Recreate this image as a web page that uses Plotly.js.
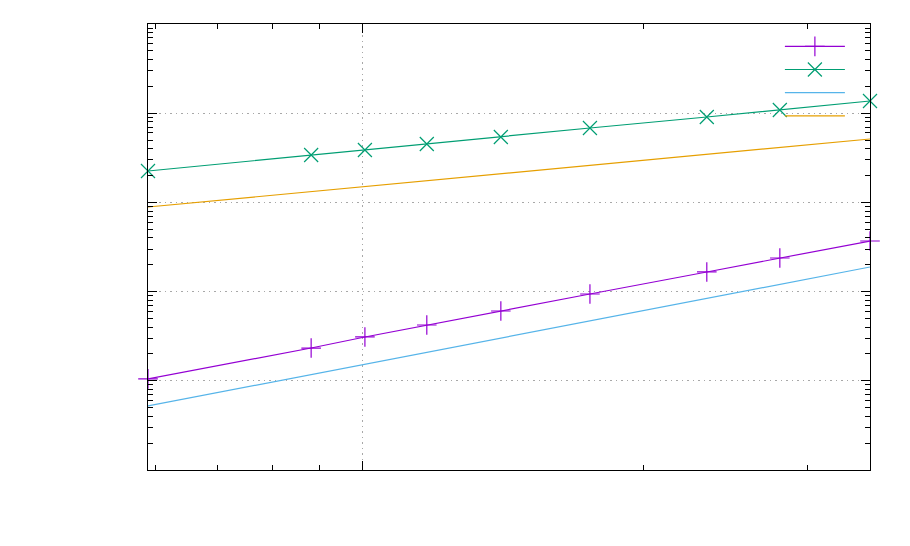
<!DOCTYPE html>
<html><head><meta charset="utf-8">
<script src="https://cdn.plot.ly/plotly-3.0.1.min.js"></script>
<style>html,body{margin:0;padding:0;background:#fff}#plot{width:910px;height:546px}</style>
</head><body><div id="plot"></div>
<script>
// data (arbitrary units, axes carry no labels)
const xPoints = [0.589, 0.881, 1.006, 1.172, 1.407, 1.753, 2.339, 2.801, 3.499];
const purpleY = [10.5, 23.3, 31.0, 42.2, 60.6, 94.0, 166, 238, 369];
const greenY = [2249, 3400, 3866, 4515, 5410, 6825, 9065, 10860, 13700];
const blueX = [0.589, 3.499];
const blueY = [5.22, 188.7];
const orangeX = [0.589, 3.499];
const orangeY = [888, 5140];

const traces = [
  {x: xPoints, y: purpleY, mode: 'lines+markers', name: ' ', cliponaxis: false,
   line: {color: '#9400d3', width: 1.2}, marker: {symbol: 'cross-thin-open', size: 14, line: {color: '#9400d3', width: 1.2}}},
  {x: xPoints, y: greenY, mode: 'lines+markers', name: ' ', cliponaxis: false,
   line: {color: '#009e73', width: 1.2}, marker: {symbol: 'x-thin-open', size: 14, line: {color: '#009e73', width: 1.2}}},
  {x: blueX, y: blueY, mode: 'lines', name: ' ', line: {color: '#56b4e9', width: 1.2}},
  {x: orangeX, y: orangeY, mode: 'lines', name: ' ', line: {color: '#e69f00', width: 1.2}}
];

const axisCommon = {
  type: 'log', showline: true, linecolor: '#000', linewidth: 1, mirror: 'allticks',
  ticks: 'inside', ticklen: 9, tickcolor: '#000', tickwidth: 1, showticklabels: false,
  dtick: 1, showgrid: true, gridcolor: '#a8a8a8', griddash: '1.5px,4px', gridwidth: 1, zeroline: false,
  minor: {ticks: 'inside', ticklen: 5, tickcolor: '#000', dtick: 'D1', showgrid: false}
};

const layout = {
  width: 910, height: 546,
  margin: {l: 148, r: 40, t: 24, b: 76},
  paper_bgcolor: '#fff', plot_bgcolor: '#fff',
  showlegend: true,
  legend: {x: 0.986, xanchor: 'right', y: 0.987, yanchor: 'top', bgcolor: 'rgba(0,0,0,0)',
           font: {family: 'Liberation Sans', size: 15.5}, itemwidth: 60, tracegroupgap: 0},
  xaxis: Object.assign({}, axisCommon, {range: [Math.log10(0.589), Math.log10(3.499)]}),
  yaxis: Object.assign({}, axisCommon, {range: [0, 5]})
};

Plotly.newPlot('plot', traces, layout, {displayModeBar: false, staticPlot: true});
</script></body></html>
